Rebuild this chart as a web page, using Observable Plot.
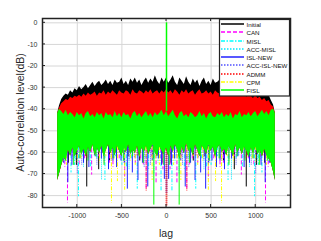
<!DOCTYPE html>
<html><head><meta charset="utf-8">
<script src="https://cdn.jsdelivr.net/npm/d3@7"></script>
<script src="https://cdn.jsdelivr.net/npm/@observablehq/plot@0.6"></script>
<style>html,body{margin:0;padding:0;background:#fff;} svg{display:block;}</style>
</head><body><div id="chart"></div>
<script>
// ---- data ----
const xTicks = [-1000, -500, 0, 500, 1000];
const yTicks = [0, -10, -20, -30, -40, -50, -60, -70, -80];
const seriesNames = ["Initial", "CAN", "MISL", "ACC-MISL", "ISL-NEW", "ACC-ISL-NEW", "ADMM", "CPM", "FISL"];

// envelope sample lags
const envLags = [-1220,-1200,-1175,-1150,-1125,-1100,-1075,-1050,-1025,-1000,-975,-950,-925,-900,-875,-850,-825,-800,-775,-750,-725,-700,-675,-650,-625,-600,-575,-550,-525,-500,-475,-450,-425,-400,-375,-350,-325,-300,-275,-250,-225,-200,-175,-150,-125,-100,-75,-50,-25,0,25,50,75,100,125,150,175,200,225,250,275,300,325,350,375,400,425,450,475,500,525,550,575,600,625,650,675,700,725,750,775,800,825,850,875,900,925,950,975,1000,1025,1050,1075,1100,1125,1150,1175,1200,1220];
// Initial: upper envelope of sidelobes (dB)
const initialTop = [
  -42,-38.5,-35.5,-34,-33,-33.5,-31.5,-32.5,-30.5,-31.5,
  -29.5,-31,-30,-28.5,-30.5,-29,-27.5,-29.5,-28,-27,
  -29,-28,-26.5,-28.5,-27,-29,-26.5,-28,-27.5,-25.5,
  -28.5,-27,-29,-26,-27.5,-25.5,-28,-26.5,-29,-27,
  -25.5,-28,-26,-27.5,-24.5,-27,-28.5,-25.5,-27.5,
  -25.5,-28,-26.5,-24.5,-27.5,-29,-25.5,-27,-28.5,-25,
  -27.5,-29,-26,-28,-26.5,-29.5,-27,-25.5,-28.5,-27,
  -29,-26,-28,-27.5,-26.5,-29,-27.5,-28.5,-26.5,-29.5,
  -28,-27,-29.5,-28.5,-30.5,-28.5,-30,-31.5,-29.5,-31,
  -30,-32.5,-31,-33,-32,-34,-33.5,-36,-38,
  -42];
// ADMM: upper envelope
const admmTop = [
  -42,-39.5,-37.5,-36.5,-35.5,-36,-34.5,-35,-34,-34.5,
  -33.5,-34.5,-33,-34,-32.5,-33.5,-33,-32,-34,-32.5,
  -33,-31.5,-33.5,-32,-33,-31.5,-32.5,-33.5,-31.5,-32.5,
  -33,-31.5,-32,-33.5,-31,-32.5,-33,-31.5,-32,-33,
  -31.5,-32.5,-31,-33,-32,-31.5,-33,-31.5,-32.5,
  -31,-32.5,-31.5,-33,-31,-32,-33.5,-31.5,-32.5,-31,
  -33,-32,-31.5,-33.5,-32,-31,-33,-32.5,-31.5,-33,
  -32,-33.5,-31.5,-32.5,-33,-31.5,-33.5,-32,-33,-32,
  -34,-32.5,-33.5,-32.5,-34,-33,-34.5,-33,-34,-35,
  -33.5,-35,-34.5,-36,-35,-36.5,-36,-38,-39,
  -42];
// FISL: upper and lower envelope of the dense band
const fislTop = [
  -42,-40,-41,-42.5,-40.5,-43,-41.5,-42.5,-44,-41.5,
  -43,-42,-44.5,-42,-41,-43.5,-42.5,-44,-41.5,-43,
  -42,-44.5,-41.5,-43,-42.5,-44,-41,-43.5,-42,-44,
  -41.5,-43,-42.5,-44.5,-42,-41,-43.5,-42,-44,-42.5,
  -41,-43.5,-42,-44,-41.5,-43,-42,-40.5,-43,
  -41,-43.5,-42,-40.5,-43,-44.5,-42,-41,-43.5,-42.5,
  -44,-41.5,-42.5,-44,-43,-41,-43.5,-42,-44.5,-42.5,
  -41.5,-43.5,-44,-42,-43,-41.5,-44,-42.5,-43.5,-41.5,
  -44.5,-42.5,-43,-41,-44,-42.5,-43,-41.5,-43.5,-42,
  -41,-43.5,-42,-40.5,-42.5,-41,-43,-40.5,-40,
  -42];
const fislBottom = [
  -73,-70,-66,-62.5,-64,-59,-61.5,-58,-62,-59.5,
  -57,-61,-58.5,-62,-57.5,-60,-56.5,-61.5,-58,-60.5,
  -57,-62,-59,-56.5,-60.5,-58,-61.5,-57,-59.5,-62,
  -57.5,-60,-56.5,-61,-58.5,-60.5,-57,-62.5,-58,-60,
  -57,-61,-58.5,-56.5,-60,-62,-57.5,-59.5,-61,
  -58,-62,-57,-60,-56.5,-59,-63,-57.5,-60.5,-56,
  -59.5,-58,-61.5,-56.5,-59,-62,-57,-58.5,-61,-56.5,
  -59.5,-57.5,-62.5,-58,-56.5,-60,-58.5,-61.5,-57,-59,
  -62,-56.5,-60,-58,-61,-57.5,-59.5,-62.5,-58,-60.5,
  -57.5,-61,-59,-62,-58.5,-61.5,-63,-65,-69,
  -73];

// deep sidelobe nulls (lag, dB) per series
const initialSpikeLags = [-1170,-1100,-1010,-894,-760,-640,-560,-430,-300,-150,-50,50,150,300,430,560,640,760,894,1010,1100,1170];
const initialSpikeLevels = [-62,-65,-66,-76,-68,-64,-65,-62,-64,-63,-65,-65,-63,-64,-62,-65,-64,-68,-76,-66,-65,-62];
const canSpikeLags = [-1175,-1140,-1110,-1050,-980,-920,-880,-839,-760,-700,-640,-600,-530,-469,-410,-350,-290,-260,-228,-170,-117,-65,-40,40,65,117,170,228,260,290,350,410,469,530,600,640,700,760,839,880,920,980,1050,1110,1140,1175];
const canSpikeLevels = [-65,-67,-83.5,-62,-66,-63,-64,-70.5,-62,-64,-65,-67,-63,-72.5,-62,-65,-63,-66,-77.5,-62,-75,-64,-68,-68,-64,-75,-62,-77.5,-66,-63,-65,-62,-72.5,-63,-67,-65,-64,-62,-70.5,-64,-63,-66,-62,-83.5,-67,-65];
const mislSpikeLags = [-1200,-1140,-1070,-1030,-987,-945,-850,-780,-690,-620,-570,-500,-450,-395,-328,-270,-230,-200,-130,-95,-61,61,95,130,200,230,270,328,395,450,500,570,620,690,780,850,945,987,1030,1070,1140,1200];
const mislSpikeLevels = [-67,-64,-69.5,-66,-80.5,-62,-67,-63,-73,-65,-62,-66,-67,-63,-77,-62,-64,-68,-63,-65,-78,-78,-65,-63,-68,-64,-62,-77,-63,-67,-66,-62,-65,-73,-63,-67,-62,-80.5,-66,-69.5,-64,-67];
const accMislSpikeLags = [-1190,-1020,-930,-810,-728,-610,-420,-250,-140,140,250,420,610,728,810,930,1020,1190];
const accMislSpikeLevels = [-66,-64,-67,-62,-73,-63,-68,-63,-70,-70,-63,-68,-63,-73,-62,-67,-64,-66];
const islNewSpikeLags = [-1210,-1153,-1106,-1060,-1000,-930,-870,-800,-730,-650,-600,-560,-510,-470,-439,-383,-320,-270,-210,-160,-90,-55,-24,24,55,90,160,210,270,320,383,439,470,510,560,600,650,730,800,870,930,1000,1060,1106,1153,1210];
const islNewSpikeLevels = [-70,-65,-74,-66,-63,-65,-67,-62,-63,-68,-64,-67,-64,-66,-77,-69.5,-73,-65,-76,-64,-63,-66,-72.5,-72.5,-66,-63,-64,-76,-65,-73,-69.5,-77,-66,-64,-67,-64,-68,-63,-62,-67,-65,-63,-66,-74,-65,-70];
const accIslNewSpikeLags = [-1130,-1050,-1000,-950,-870,-780,-700,-590,-480,-420,-360,-250,-180,-110,-5,5,110,180,250,360,420,480,590,700,780,870,950,1000,1050,1130];
const accIslNewSpikeLevels = [-63,-64,-70,-66,-63,-66,-65,-62,-65,-64,-63,-67,-66,-62,-79,-79,-62,-66,-67,-63,-64,-65,-62,-65,-66,-63,-66,-70,-64,-63];
const admmSpikeLags = [-1080,-900,-620,-330,-228,-5,5,228,330,620,900,1080];
const admmSpikeLevels = [-62,-63,-64,-62,-78,-85,-85,-78,-62,-64,-63,-62];
const cpmSpikeLags = [-1200,-1160,-1120,-1080,-1000,-960,-860,-750,-680,-617,-550,-469,-405,-350,-300,-230,-161,-120,-80,80,120,161,230,300,350,405,469,550,617,680,750,860,960,1000,1080,1120,1160,1200];
const cpmSpikeLevels = [-62,-64,-66,-61,-65,-63,-59,-65,-62,-83.5,-73.5,-77.5,-64,-66,-62,-62,-73,-64,-66,-66,-64,-73,-62,-62,-66,-64,-77.5,-73.5,-83.5,-62,-65,-59,-63,-65,-61,-66,-64,-62];
const fislSpikeLags = [-1130,-1040,-970,-880,-790,-700,-590,-480,-380,-260,-142,-30,30,142,260,380,480,590,700,790,880,970,1040,1130];
const fislSpikeLevels = [-64,-66,-63,-64,-62,-66,-63,-64,-62,-65,-84.4,-66,-66,-84.4,-65,-62,-64,-63,-66,-62,-64,-63,-66,-64];
// main lobe
const peakLags = [0];
const peakLevels = [0];

// ---- styles ----
const colors = {"Initial":"#000000","CAN":"#ff00ff","MISL":"#00ffff","ACC-MISL":"#00e8ff","ISL-NEW":"#2020ff","ACC-ISL-NEW":"#5050ff","ADMM":"#ff0000","CPM":"#ffff00","FISL":"#00ff00"};
const dashes = {"Initial":null,"CAN":"4,2","MISL":"4,1.5,1,1.5","ACC-MISL":"1,1","ISL-NEW":null,"ACC-ISL-NEW":"1,1","ADMM":"1,1","CPM":"4,1.5,1,1.5","FISL":null};
const legendDashes = {"Initial":null,"CAN":"4,2","MISL":"4,1.5,1.5,1.5","ACC-MISL":"1.5,1.5","ISL-NEW":null,"ACC-ISL-NEW":"1.5,1.5","ADMM":"1.5,1.5","CPM":"4,1.5,1.5,1.5","FISL":null};
const font = "'Liberation Sans', Arial, sans-serif";

const pairs = (lags, levels) => lags.map((lag, i) => ({lag, level: levels[i]}));
const env = envLags.map((lag, i) => ({lag, initialTop: initialTop[i], admmTop: admmTop[i], fislTop: fislTop[i], fislBottom: fislBottom[i]}));
const spikeBase = -50;
const spikes = (name, lags, levels) => Plot.ruleX(pairs(lags, levels), {x: "lag", y1: spikeBase, y2: "level", stroke: colors[name], strokeWidth: 1, strokeDasharray: dashes[name]});
const peakBase = fislTop[envLags.indexOf(0)];

const plot = Plot.plot({
  width: 321, height: 241,
  marginLeft: 42, marginRight: 31, marginTop: 18, marginBottom: 34,
  style: {fontFamily: font, fontSize: "7px", color: "#333", background: "#fff"},
  x: {domain: [-1390, 1390]},
  y: {domain: [-85.5, 2]},
  marks: [
    Plot.gridX(xTicks, {stroke: "#d6d6d6", strokeOpacity: 1, strokeWidth: 1}),
    Plot.gridY(yTicks, {stroke: "#d6d6d6", strokeOpacity: 1, strokeWidth: 1}),
    Plot.areaY(env, {x: "lag", y1: "fislBottom", y2: "initialTop", fill: colors["Initial"]}),
    spikes("Initial", initialSpikeLags, initialSpikeLevels),
    spikes("CAN", canSpikeLags, canSpikeLevels),
    spikes("MISL", mislSpikeLags, mislSpikeLevels),
    spikes("ACC-MISL", accMislSpikeLags, accMislSpikeLevels),
    spikes("ISL-NEW", islNewSpikeLags, islNewSpikeLevels),
    spikes("ACC-ISL-NEW", accIslNewSpikeLags, accIslNewSpikeLevels),
    Plot.areaY(env, {x: "lag", y1: "fislBottom", y2: "admmTop", fill: colors["ADMM"]}),
    spikes("ADMM", admmSpikeLags, admmSpikeLevels),
    spikes("CPM", cpmSpikeLags, cpmSpikeLevels),
    Plot.areaY(env, {x: "lag", y1: "fislBottom", y2: "fislTop", fill: colors["FISL"]}),
    spikes("FISL", fislSpikeLags, fislSpikeLevels),
    Plot.ruleX(pairs(peakLags, peakLevels), {x: "lag", y1: peakBase, y2: "level", stroke: colors["FISL"], strokeWidth: 1.5}),
    Plot.axisX(xTicks, {tickSize: 0, tickPadding: 6, label: null, fill: "#333", tickFormat: d => String(d)}),
    Plot.axisY(yTicks, {tickSize: 0, tickPadding: 5, label: null, fill: "#333", tickFormat: d => String(d)}),
    Plot.frame({stroke: "#222", strokeWidth: 1.5})
  ]
});

const svg = d3.select(plot);
const sx = plot.scale("x"), sy = plot.scale("y");
const L = 42, R = 321 - 31, T = 18, B = 241 - 34, tl = 3;
const tg = svg.append("g").attr("stroke", "#222").attr("stroke-width", 1);
xTicks.forEach(v => {
  const x = sx.apply(v);
  tg.append("line").attr("x1", x).attr("x2", x).attr("y1", B).attr("y2", B - tl);
  tg.append("line").attr("x1", x).attr("x2", x).attr("y1", T).attr("y2", T + tl);
});
yTicks.forEach(v => {
  const y = sy.apply(v);
  tg.append("line").attr("x1", L).attr("x2", L + tl).attr("y1", y).attr("y2", y);
  tg.append("line").attr("x1", R).attr("x2", R - tl).attr("y1", y).attr("y2", y);
});

// axis titles
svg.append("text").attr("x", (L + R) / 2).attr("y", 233).attr("text-anchor", "middle").attr("dominant-baseline", "central")
  .attr("font-size", 10.5).attr("fill", "#262626").attr("font-family", font).text("lag");
svg.append("text").attr("transform", `translate(20,${(T + B) / 2}) rotate(-90)`).attr("text-anchor", "middle").attr("dominant-baseline", "central")
  .attr("font-size", 10.5).attr("fill", "#262626").attr("font-family", font).text("Auto-correlation level(dB)");

// legend
const lg = svg.append("g");
lg.append("rect").attr("x", 219.5).attr("y", 19.5).attr("width", 70).attr("height", 76.5).attr("fill", "#fff").attr("stroke", "#222").attr("stroke-width", 1.2);
seriesNames.forEach((name, i) => {
  const y = Math.round(24 + i * 8.25);
  lg.append("line").attr("x1", 221).attr("x2", 244).attr("y1", y).attr("y2", y)
    .attr("stroke", colors[name]).attr("stroke-width", 1.5).attr("stroke-dasharray", legendDashes[name]);
  lg.append("text").attr("x", 246.5).attr("y", y).attr("text-anchor", "start").attr("dominant-baseline", "central").attr("font-size", 6.2)
    .attr("fill", "#111").attr("font-family", font).text(name);
});

document.getElementById("chart").appendChild(plot);
</script>
</body></html>
